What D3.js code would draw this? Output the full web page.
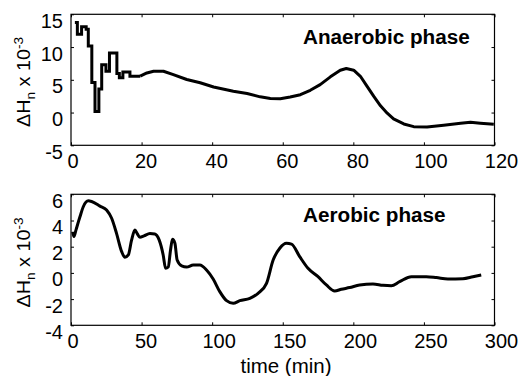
<!DOCTYPE html>
<html>
<head>
<meta charset="utf-8">
<script src="https://cdn.jsdelivr.net/npm/d3@7"></script>
<style>
  body { margin: 0; background: #fff; }
  svg { display: block; font-family: Arial, "Liberation Sans", Helvetica, sans-serif; }
</style>
</head>
<body>
<svg id="chart" width="522" height="376"></svg>
<script>
// Anaerobic phase: early stepwise record (time in min, ΔHn ×10^-3)
const anaerobicStairs = [
  [1.1, 13.75], [1.8, 11.95], [3.0, 13.1], [4.3, 12.7], [4.9, 10.15],
  [5.9, 4.6], [6.8, 0.15], [7.9, 3.6], [8.7, 7.3], [9.9, 6.3],
  [10.9, 9.1], [13.0, 5.95], [13.7, 5.3], [14.7, 6.2], [16.7, 5.55], [19.6, 5.55]
];
// Anaerobic phase: remainder of the record
const anaerobicSmooth = [
  [19.6, 5.55], [21.5, 6.05], [23.4, 6.3], [26.2, 6.3], [29.0, 5.8],
  [32.8, 5.05], [36.6, 4.55], [40.4, 3.9], [46.0, 3.26], [49.9, 2.9],
  [53.6, 2.4], [56.5, 2.16], [59.3, 2.1], [62.1, 2.37], [65.0, 2.72],
  [67.8, 3.4], [70.6, 4.26], [73.5, 5.45], [76.3, 6.46], [78.0, 6.72],
  [80.1, 6.46], [82.0, 5.54], [83.9, 4.0], [85.8, 2.46], [87.7, 1.03],
  [89.6, -0.1], [91.4, -0.97], [94.3, -1.74], [97.1, -2.15], [100.9, -2.2],
  [105.6, -1.94], [110.4, -1.63], [113.2, -1.48], [116.0, -1.63], [119.8, -1.79]
];
// Aerobic phase record
const aerobicSeries = [
  [1.2, 3.15], [2.1, 2.77], [3.5, 3.27], [6.4, 4.3], [8.7, 5.05],
  [12.3, 5.5], [14.6, 5.45], [20.5, 5.1], [25.2, 4.8], [28.8, 4.17],
  [32.3, 3.0], [35.9, 1.62], [38.2, 1.19], [40.6, 1.37], [42.9, 2.5],
  [45.3, 3.27], [46.9, 3.0], [48.8, 2.72], [51.7, 2.82], [55.9, 3.0],
  [59.4, 2.97], [62.5, 2.5], [65.3, 1.37], [67.0, 0.35], [68.9, 0.45],
  [70.5, 1.75], [71.9, 2.56], [73.6, 2.26], [75.2, 0.98], [78.4, 0.53],
  [81.9, 0.45], [86.6, 0.6], [91.3, 0.6], [96.0, 0.22], [100.7, -0.47],
  [105.4, -1.43], [110.2, -2.12], [114.9, -2.32], [119.6, -2.12], [126.7, -1.94],
  [132.5, -1.56], [138.5, -0.8], [143.2, 0.98], [147.9, 1.88], [152.6, 2.26],
  [156.2, 2.2], [162.0, 1.24], [167.9, 0.35], [175.0, -0.29], [180.9, -0.92],
  [186.8, -1.38], [191.5, -1.25], [197.4, -1.12], [204.5, -0.92], [213.9, -0.85],
  [221.0, -0.95], [226.9, -0.98], [232.8, -0.67], [241.1, -0.29], [251.7, -0.29],
  [258.8, -0.36], [267.0, -0.47], [277.6, -0.44], [284.7, -0.29], [290.6, -0.16]
];

const anaerobicXTicks = [0, 20, 40, 60, 80, 100, 120];
const anaerobicYTicks = [-5, 0, 5, 10, 15];
const aerobicXTicks = [0, 50, 100, 150, 200, 250, 300];
const aerobicYTicks = [-4, -2, 0, 2, 4, 6];
const panelTitles = ["Anaerobic phase", "Aerobic phase"];
const xAxisTitle = "time (min)";

const svg = d3.select("#chart");
const plotLeft = 71, plotRight = 494.5;

function drawPanel(cfg) {
  const g = svg.append("g");
  const x = d3.scaleLinear().domain(cfg.xDomain).range([plotLeft, plotRight]);
  const y = d3.scaleLinear().domain(cfg.yDomain).range([cfg.bottom, cfg.top]);

  // inward tick marks on all four sides
  const tick = 3;
  const axes = [
    [d3.axisBottom(x).tickValues(cfg.xTicks), `translate(0,${cfg.bottom})`],
    [d3.axisTop(x).tickValues(cfg.xTicks), `translate(0,${cfg.top})`],
    [d3.axisLeft(y).tickValues(cfg.yTicks), `translate(${plotLeft},0)`],
    [d3.axisRight(y).tickValues(cfg.yTicks), `translate(${plotRight},0)`]
  ];
  axes.forEach(([ax, tr]) => {
    const a = g.append("g").attr("transform", tr)
      .call(ax.tickSizeInner(-tick).tickSizeOuter(0).tickFormat(""));
    a.select(".domain").remove();
    a.selectAll("line").attr("stroke", "#000").attr("stroke-width", 1);
  });

  // frame
  g.append("rect")
    .attr("x", plotLeft).attr("y", cfg.top)
    .attr("width", plotRight - plotLeft).attr("height", cfg.bottom - cfg.top)
    .attr("fill", "none").attr("stroke", "#000").attr("stroke-width", 1.2);

  // tick labels
  g.selectAll(".xl").data(cfg.xTicks).join("text")
    .attr("x", d => x(d) + 2.5 * String(d).length - 0.5)
    .attr("y", cfg.bottom + 22.3)
    .attr("text-anchor", "middle")
    .attr("font-size", 20)
    .text(d => d);
  g.selectAll(".yl").data(cfg.yTicks).join("text")
    .attr("x", 63)
    .attr("y", d => y(d) + 13.5)
    .attr("text-anchor", "end")
    .attr("font-size", 20)
    .text(d => d);

  // series
  cfg.series.forEach(s => {
    g.append("path")
      .datum(s.data)
      .attr("fill", "none")
      .attr("stroke", "#000")
      .attr("stroke-width", 3)
      .attr("stroke-linejoin", s.join)
      .attr("d", d3.line().x(d => x(d[0])).y(d => y(d[1])).curve(s.curve));
  });

  // panel title
  g.append("text")
    .attr("x", 303).attr("y", cfg.titleY)
    .attr("font-size", 20.7).attr("font-weight", "bold")
    .text(cfg.title);

  // y-axis label: ΔHn x 10^-3
  const cy = cfg.labelCenter;
  const lab = g.append("text")
    .attr("text-anchor", "middle")
    .attr("font-size", 19);
  lab.append("tspan").text("\u0394H");
  lab.append("tspan").attr("font-size", 13).attr("dy", 5).text("n");
  lab.append("tspan").attr("dy", -5).text(" x 10");
  lab.append("tspan").attr("font-size", 13).attr("dy", -7).text("-3");
  const natural = lab.node().getComputedTextLength();
  const s = 90 / natural;
  lab.attr("transform", `translate(29.5,${cy}) rotate(-90) scale(${s},1)`);

  return { x, y };
}

drawPanel({
  xDomain: [0, 120], yDomain: [-5, 15], top: 14.3, bottom: 145.3,
  xTicks: anaerobicXTicks, yTicks: anaerobicYTicks,
  title: panelTitles[0], titleY: 44, labelCenter: 82,
  series: [
    { data: anaerobicStairs, curve: d3.curveStepAfter, join: "miter" },
    { data: anaerobicSmooth, curve: d3.curveLinear, join: "round" }
  ]
});

drawPanel({
  xDomain: [0, 300], yDomain: [-4, 6], top: 194.3, bottom: 325.3,
  xTicks: aerobicXTicks, yTicks: aerobicYTicks,
  title: panelTitles[1], titleY: 222, labelCenter: 262.5,
  series: [
    { data: aerobicSeries, curve: d3.curveMonotoneX, join: "round" }
  ]
});

svg.append("text")
  .attr("x", 286).attr("y", 373)
  .attr("text-anchor", "middle")
  .attr("font-size", 20.5)
  .text(xAxisTitle);
</script>
</body>
</html>
